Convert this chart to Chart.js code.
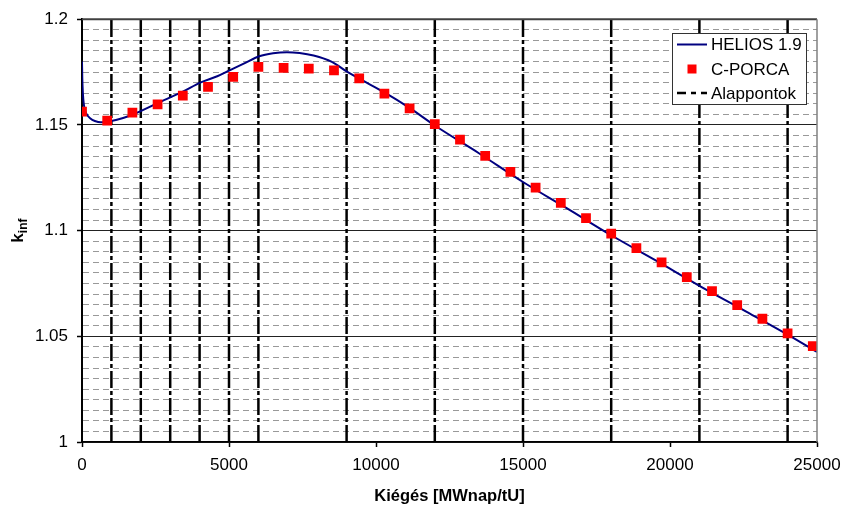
<!DOCTYPE html>
<html>
<head>
<meta charset="utf-8">
<script src="https://cdn.jsdelivr.net/npm/chart.js@4.4.1/dist/chart.umd.min.js"></script>
<style>
  html, body { margin: 0; padding: 0; background: #fff; }
  #wrap { width: 842px; height: 506px; }
</style>
</head>
<body>
<div id="wrap"><canvas id="kinfChart" width="842" height="506"></canvas></div>
<script>
// base points (Alappontok), MWnap/tU
const basePoints = [1000, 2000, 3000, 4000, 5000, 6000, 9000, 12000, 15000, 18000, 21000, 24000];

// HELIOS 1.9 curve
const heliosBurnup = [0, 10, 30, 60, 120, 200, 350, 550, 750, 1000, 1400, 1714, 2571, 3429, 4023, 4600,
  5020, 5500, 6030, 6500, 6972, 7400, 7877, 8500, 9012, 9465, 10257, 11165, 12000, 13500, 15000,
  16500, 18000, 19500, 21000, 22500, 24000, 25000];
const heliosKinf = [1.180, 1.172, 1.165, 1.160, 1.1562, 1.1542, 1.1524, 1.1514, 1.1512, 1.1518, 1.1533,
  1.1548, 1.1603, 1.1657, 1.1700, 1.1730, 1.1758, 1.1790, 1.1825, 1.1839, 1.1844, 1.1840, 1.1828,
  1.1798, 1.1752, 1.1716, 1.1656, 1.1578, 1.1497, 1.1366, 1.1230, 1.1105, 1.0978, 1.0860, 1.0739,
  1.0624, 1.0508, 1.0426];

// C-PORCA points
const porcaBurnup = [0, 857, 1714, 2571, 3429, 4286, 5143, 6000, 6857, 7714, 8571, 9429, 10286, 11143,
  12000, 12857, 13714, 14571, 15429, 16286, 17143, 18000, 18857, 19714, 20571, 21429, 22286, 23143,
  24000, 24857];
const porcaKinf = [1.1563, 1.1520, 1.1558, 1.1597, 1.1639, 1.1680, 1.1727, 1.1775, 1.1770, 1.1766,
  1.1758, 1.1720, 1.1648, 1.1578, 1.1504, 1.1430, 1.1354, 1.1278, 1.1203, 1.1131, 1.1059, 1.0986,
  1.0917, 1.0850, 1.0780, 1.0714, 1.0647, 1.0583, 1.0514, 1.0453];

const xMin = 0, xMax = 25000, xStep = 5000;
const yMin = 1, yMax = 1.2, yMinorStep = 0.005;

const FONT = "'Liberation Sans', Arial, sans-serif";

// vertical dashed lines through the base points, broken by null gaps
const baseLineData = [];
basePoints.forEach(b => {
  baseLineData.push({ x: b, y: yMin }, { x: b, y: yMax }, { x: b, y: null });
});

const isMajorY = v => Math.abs(Math.round(v * 1000) % 50) === 0;

const framePlugin = {
  id: 'frame',
  beforeDraw(chart) {
    const c = chart.ctx;
    c.save();
    c.fillStyle = '#fff';
    c.fillRect(0, 0, chart.width, chart.height);
    c.restore();
  },
  afterDraw(chart) {
    const c = chart.ctx;
    const a = chart.chartArea;
    c.save();
    // top + right border
    c.strokeStyle = '#404040';
    c.lineWidth = 2;
    c.beginPath(); c.moveTo(a.left, a.top); c.lineTo(a.right, a.top); c.stroke();
    c.strokeStyle = '#808080';
    c.lineWidth = 1.5;
    c.beginPath(); c.moveTo(a.right, a.top); c.lineTo(a.right, a.bottom); c.stroke();

    // y title: k with subscript inf
    c.translate(17, (a.top + a.bottom) / 2);
    c.rotate(-Math.PI / 2);
    c.fillStyle = '#000';
    c.textBaseline = 'alphabetic';
    c.font = 'bold 17px ' + FONT;
    const kw = c.measureText('k').width;
    c.font = 'bold 12px ' + FONT;
    const sw = c.measureText('inf').width;
    const x0 = -(kw + sw) / 2;
    c.font = 'bold 17px ' + FONT;
    c.fillText('k', x0, 6);
    c.font = 'bold 12px ' + FONT;
    c.fillText('inf', x0 + kw, 10);
    c.restore();

    // legend box
    c.save();
    const lx = 672.5, ly = 33.5, lw = 134, lh = 71;
    c.fillStyle = '#fff';
    c.fillRect(lx, ly, lw, lh);
    c.strokeStyle = '#333';
    c.lineWidth = 1;
    c.strokeRect(lx, ly, lw, lh);
    c.font = '17px ' + FONT;
    c.fillStyle = '#000';
    c.textBaseline = 'middle';
    const rows = [44.5, 69, 93];
    // HELIOS line sample
    c.strokeStyle = '#000080';
    c.lineWidth = 2;
    c.beginPath(); c.moveTo(677, rows[0]); c.lineTo(707, rows[0]); c.stroke();
    c.fillText('HELIOS 1.9', 711, rows[0] + 1);
    // C-PORCA marker
    c.fillStyle = '#ff0000';
    c.fillRect(687.5, rows[1] - 4.5, 9, 9);
    c.fillStyle = '#000';
    c.fillText('C-PORCA', 711, rows[1] + 1);
    // Alappontok sample
    c.strokeStyle = '#000';
    c.lineWidth = 2.5;
    c.setLineDash([9, 5, 5, 5]);
    c.beginPath(); c.moveTo(677, rows[2]); c.lineTo(707, rows[2]); c.stroke();
    c.setLineDash([]);
    c.fillText('Alappontok', 711, rows[2] + 1);
    c.restore();
  }
};

new Chart(document.getElementById('kinfChart'), {
  type: 'scatter',
  data: {
    datasets: [
      {
        label: 'C-PORCA',
        data: porcaBurnup.map((x, i) => ({ x, y: porcaKinf[i] })),
        showLine: false,
        pointStyle: 'rect',
        pointRadius: 6.9,
        pointBackgroundColor: '#ff0000',
        pointBorderWidth: 0,
        pointBorderColor: '#ff0000'
      },
      {
        label: 'HELIOS 1.9',
        data: heliosBurnup.map((x, i) => ({ x, y: heliosKinf[i] })),
        showLine: true,
        borderColor: '#000080',
        borderWidth: 2,
        pointRadius: 0,
        cubicInterpolationMode: 'monotone'
      },
      {
        label: 'Alappontok',
        data: baseLineData,
        showLine: true,
        spanGaps: false,
        borderColor: '#000',
        borderWidth: 2.5,
        borderDash: [17, 3, 4, 3],
        pointRadius: 0
      }
    ]
  },
  options: {
    responsive: false,
    devicePixelRatio: 1,
    animation: false,
    layout: { padding: { top: 15, right: 25, left: 0, bottom: 0 } },
    plugins: {
      legend: { display: false },
      tooltip: { enabled: false }
    },
    scales: {
      x: {
        type: 'linear',
        min: xMin,
        max: xMax,
        afterFit: s => { s.height = 64; s.paddingLeft = 0; s.paddingRight = 0; },
        ticks: {
          stepSize: xStep,
          padding: 8,
          color: '#000',
          font: { family: FONT, size: 17 },
          maxRotation: 0,
          callback: v => String(v)
        },
        grid: {
          drawOnChartArea: false,
          drawTicks: true,
          tickLength: 5,
          tickColor: '#000',
          tickWidth: 1.5
        },
        border: { display: true, color: '#000', width: 1.5 },
        title: {
          display: true,
          text: 'Kiégés [MWnap/tU]',
          color: '#000',
          font: { family: FONT, size: 16.5, weight: 'bold' },
          padding: { top: 4, bottom: 0 }
        }
      },
      y: {
        type: 'linear',
        min: yMin,
        max: yMax,
        afterFit: s => { s.width = 82; },
        ticks: {
          stepSize: yMinorStep,
          autoSkip: false,
          padding: 9,
          color: '#000',
          font: { family: FONT, size: 17 },
          callback: v => isMajorY(v) ? String(parseFloat(v.toFixed(3))) : ''
        },
        grid: {
          drawTicks: true,
          tickLength: 5,
          color: ctx => ctx.tick && isMajorY(ctx.tick.value) ? '#222' : '#999',
          lineWidth: 1,
          tickColor: ctx => ctx.tick && isMajorY(ctx.tick.value) ? '#000' : 'rgba(0,0,0,0)',
          tickWidth: 1.5
        },
        border: {
          display: true,
          color: '#000',
          width: 2,
          dash: ctx => (ctx.tick && !isMajorY(ctx.tick.value)) ? [6, 4] : []
        }
      }
    }
  },
  plugins: [framePlugin]
});
</script>
</body>
</html>
